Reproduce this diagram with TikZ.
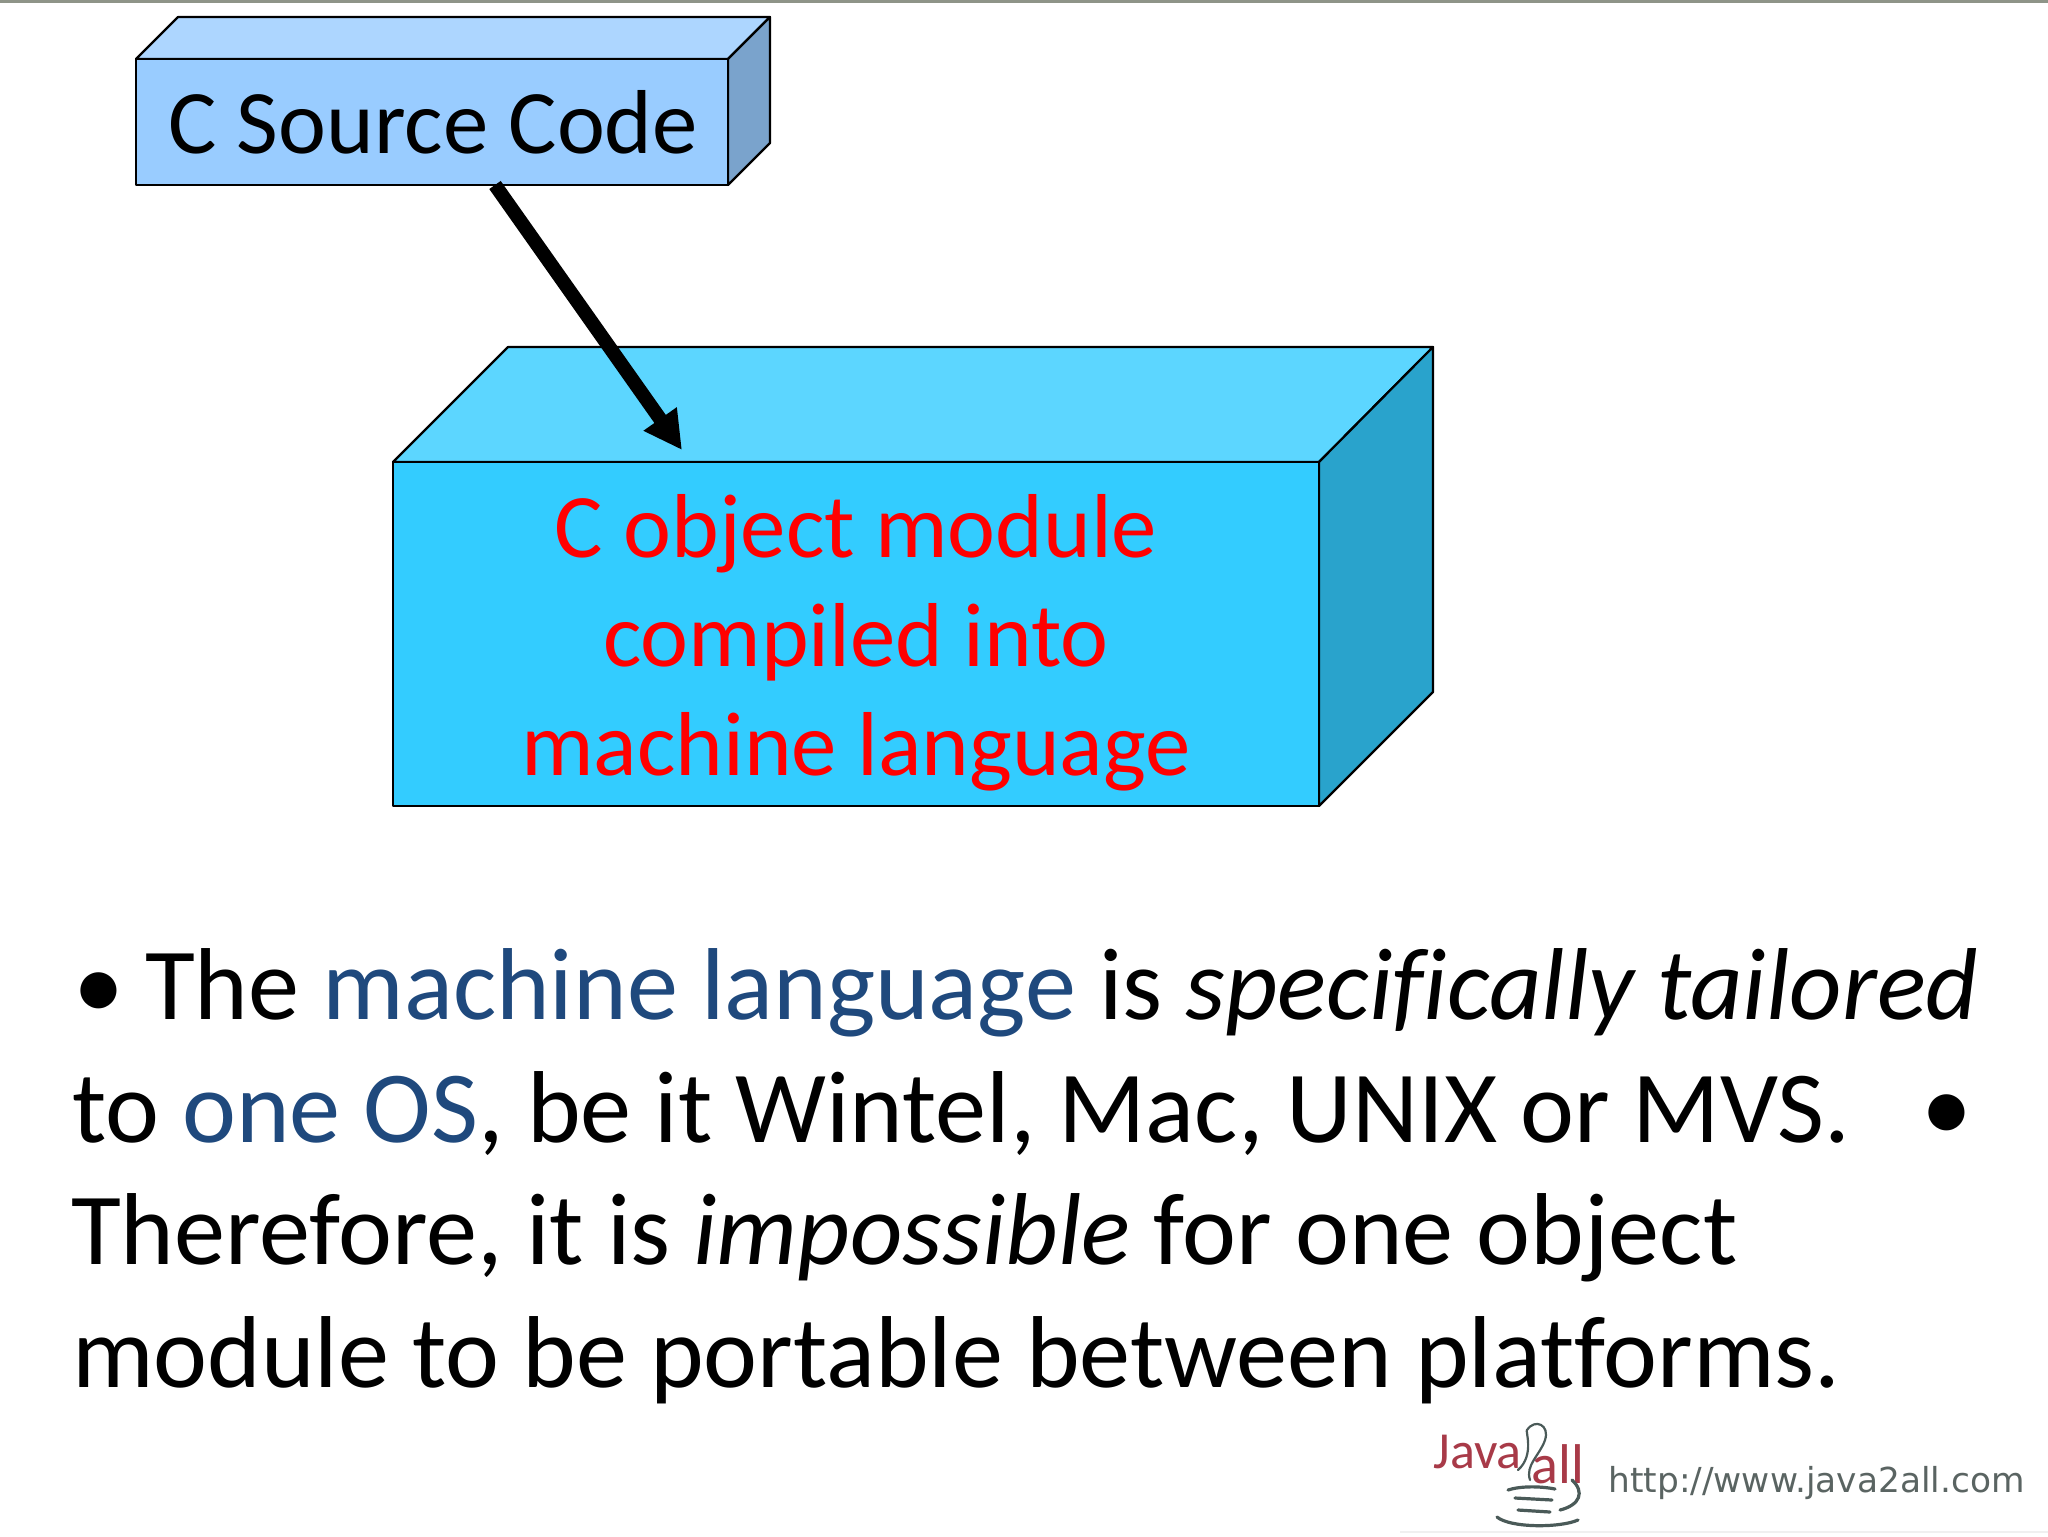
\documentclass[tikz,border=0pt]{standalone}
\usepackage{fontspec}
\setmainfont[Ligatures=NoCommon]{Carlito}
\newfontfamily\urlfont{DejaVu Sans}
\usetikzlibrary{arrows.meta}
\definecolor{txtblue}{HTML}{1F497D}
\definecolor{smallfront}{HTML}{99CCFF}
\definecolor{smalltop}{HTML}{ADD6FF}
\definecolor{smallside}{HTML}{7AA3CC}
\definecolor{bigfront}{HTML}{33CCFF}
\definecolor{bigtop}{HTML}{5CD6FF}
\definecolor{bigside}{HTML}{29A3CC}
\definecolor{logored}{HTML}{A83A48}
\definecolor{logogrey}{HTML}{4A5A58}
\definecolor{urlgrey}{HTML}{5A6462}
\definecolor{topbar}{HTML}{8E9488}
\begin{document}
\begin{tikzpicture}[x=0.5pt,y=-0.5pt,
  edge/.style={draw=black,line width=1.1pt,line join=round},
  bodyline/.style={anchor=base west,inner sep=0pt,outer sep=0pt,font=\fontsize{51.1}{60}\selectfont},
  redline/.style={anchor=base,inner sep=0pt,outer sep=0pt,text=red,font=\fontsize{45.4}{54}\selectfont},
  thickarrow/.style={line width=7pt,-{Triangle[length=19pt,width=19pt]}},
  logoline/.style={draw=logogrey,line width=1.6pt,line cap=round}]
\useasboundingbox (0,0) rectangle (2048,1536);
\fill[white] (0,0) rectangle (2048,1536);
\fill[topbar] (0,0) rectangle (2048,3);
\fill[black!6] (1400,1531) rectangle (2048,1533);
% small box
\draw[edge,fill=smalltop] (136,59) -- (178,17) -- (770,17) -- (728,59) -- cycle;
\draw[edge,fill=smallside] (728,59) -- (770,17) -- (770,143) -- (728,185) -- cycle;
\node[edge,fill=smallfront,minimum width=296pt,minimum height=63pt,inner sep=0pt,outer sep=0pt] (src) at (432,122) {};
\node[anchor=base,inner sep=0pt,font=\fontsize{45.4}{54}\selectfont] (srclabel) at (433,154) {C Source Code};
% big box
\draw[edge,fill=bigtop] (393,462) -- (508,347) -- (1433,347) -- (1319,462) -- cycle;
\draw[edge,fill=bigside] (1319,462) -- (1433,347) -- (1433,692) -- (1319,806) -- cycle;
\node[edge,fill=bigfront,minimum width=463pt,minimum height=172pt,inner sep=0pt,outer sep=0pt] (obj) at (856,634) {};
\node[redline] (obj1) at (856,557) {C object module};
\node[redline] (obj2) at (856,666) {compiled into};
\node[redline] (obj3) at (856,775) {machine language};
% arrow
\coordinate (tip) at (682,450);
\coordinate (start) at (495,185);
\draw[thickarrow] (start) -- (tip);
% body
\node[bodyline] (l1) at (73,1019) {•};
\node[bodyline] (l1b) at (145,1019) {The \textcolor{txtblue}{machine language} is \textit{specifically tailored}};
\node[bodyline] (l2) at (72,1142) {to \textcolor{txtblue}{one OS}, be it Wintel, Mac, UNIX or MVS.};
\node[bodyline] (l2b) at (1921,1141) {•};
\node[bodyline] (l3) at (71,1264) {Therefore, it is \textit{impossible} for one object};
\node[bodyline] (l4) at (72,1387) {module to be portable between platforms.};
% logo
\node[anchor=base west,inner sep=0pt,text=logored,font=\fontsize{26}{30}\selectfont] (java) at (1433,1468) {Java};
\node[anchor=base west,inner sep=0pt,text=logored,font=\fontsize{28}{32}\selectfont] (all) at (1531,1483) {all};
\draw[logoline,line width=1.1pt] (1518,1470) .. controls (1535,1455) and (1525,1430) .. (1527,1430) .. controls (1535,1418) and (1550,1425) .. (1545,1440) .. controls (1540,1455) and (1525,1465) .. (1530,1480);
\draw[logoline] (1572,1480) .. controls (1585,1492) and (1580,1505) .. (1560,1510);
\draw[logoline] (1508,1490) .. controls (1520,1486) and (1540,1486) .. (1555,1489);
\draw[logoline] (1515,1498) -- (1552,1500);
\draw[logoline] (1518,1510) -- (1550,1512);
\draw[logoline] (1497,1517) .. controls (1510,1528) and (1560,1528) .. (1578,1520);
\node[anchor=base west,inner sep=0pt,text=urlgrey,font=\urlfont\fontsize{17.2}{20}\selectfont] (url) at (1608,1492) {http://www.java2all.com};
\end{tikzpicture}
\end{document}
